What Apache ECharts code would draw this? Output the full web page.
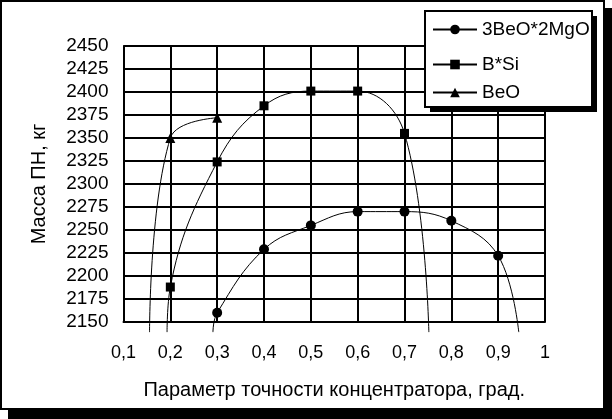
<!DOCTYPE html>
<html>
<head>
<meta charset="utf-8">
<script src="https://cdn.jsdelivr.net/npm/echarts@6/dist/echarts.min.js"></script>
<style>
html,body{margin:0;padding:0;background:#fff;}
#c{width:612px;height:419px;}
</style>
</head>
<body>
<div id="c"></div>
<script>
// ---- data ----
const seriesNames = ['3BeO*2MgO', 'B*Si', 'BeO'];
const xTicks = [0.1, 0.2, 0.3, 0.4, 0.5, 0.6, 0.7, 0.8, 0.9, 1];

const mgoX = [0.3, 0.4, 0.5, 0.6, 0.7, 0.8, 0.9];
const mgoY = [2160, 2229, 2255, 2270, 2270, 2260, 2222];
const mgoTailStart = [0.291, 2139];
const mgoTailEnd = [0.944, 2139];

const bsiX = [0.2, 0.3, 0.4, 0.5, 0.6, 0.7];
const bsiY = [2188, 2324, 2385, 2401, 2401, 2355];
const bsiTailStart = [0.193, 2139];
const bsiTailEnd = [0.752, 2139];

const beoX = [0.2, 0.3];
const beoY = [2350, 2372];
const beoTailStart = [0.1556, 2139];

const FONT = '"Liberation Sans", Arial, sans-serif';

function build(xs, ys, start, end) {
  const d = [];
  if (start) d.push({ value: start, symbol: 'none' });
  xs.forEach((x, i) => d.push([x, ys[i]]));
  if (end) d.push({ value: end, symbol: 'none' });
  return d;
}

const chart = echarts.init(document.getElementById('c'), null, { renderer: 'canvas' });

const axisCommon = {
  axisLine: { show: true, lineStyle: { color: '#000', width: 2 } },
  axisTick: { show: false },
  splitLine: { show: true, lineStyle: { color: '#000', width: 2 } },
  nameLocation: 'middle',
  nameTextStyle: { fontSize: 20, color: '#000', fontFamily: FONT }
};

function legendAt(name, top, lineW) {
  return {
    data: [{ name: name, lineStyle: lineW ? { width: lineW } : undefined }],
    left: 432, top: top, padding: 0,
    itemWidth: 44, itemHeight: 12, itemGap: 0,
    textStyle: { fontSize: 19, color: '#000', fontFamily: FONT, padding: [0, 0, 0, 0] },
    z: 8
  };
}

chart.setOption({
  animation: false,
  backgroundColor: 'transparent',
  graphic: [
    { type: 'rect', z: -10, shape: { x: 8, y: 8, width: 604, height: 411 }, style: { fill: '#000' } },
    { type: 'rect', z: -9, shape: { x: 1, y: 1, width: 603, height: 408 }, style: { fill: '#fff', stroke: '#000', lineWidth: 2 } },
    { type: 'rect', z: 6, shape: { x: 430, y: 16, width: 167, height: 96 }, style: { fill: '#000' } },
    { type: 'rect', z: 7, shape: { x: 425, y: 11, width: 167, height: 96 }, style: { fill: '#fff', stroke: '#000', lineWidth: 2 } }
  ],
  grid: { left: 123.5, right: 67, top: 46, bottom: 97 },
  xAxis: Object.assign({}, axisCommon, {
    type: 'value', min: 0.1, max: 1, interval: 0.1,
    name: 'Параметр точности концентратора, град.',
    nameGap: 58,
    axisLabel: {
      margin: 22, fontSize: 18, color: '#000', fontFamily: FONT,
      formatter: v => String(+(+v).toFixed(1)).replace('.', ',')
    }
  }),
  yAxis: Object.assign({}, axisCommon, {
    type: 'value', min: 2150, max: 2450, interval: 25,
    name: 'Масса ПН, кг',
    nameRotate: 90,
    nameGap: 74,
    axisLabel: { margin: 15, fontSize: 19, color: '#000', fontFamily: FONT, formatter: v => String(v) }
  }),
  legend: [
    legendAt(seriesNames[0], 20),
    legendAt(seriesNames[1], 55, 2),
    legendAt(seriesNames[2], 83)
  ],
  series: [
    {
      name: seriesNames[0], type: 'line', smooth: 0.4, clip: false,
      symbol: 'circle', symbolSize: 10,
      lineStyle: { color: '#000', width: 1 }, itemStyle: { color: '#000' },
      data: build(mgoX, mgoY, mgoTailStart, mgoTailEnd)
    },
    {
      name: seriesNames[1], type: 'line', smooth: 0.4, clip: false,
      symbol: 'rect', symbolSize: 9,
      lineStyle: { color: '#000', width: 1 }, itemStyle: { color: '#000' },
      data: build(bsiX, bsiY, bsiTailStart, bsiTailEnd)
    },
    {
      name: seriesNames[2], type: 'line', smooth: 0.4, clip: false,
      symbol: 'triangle', symbolSize: 10,
      lineStyle: { color: '#000', width: 1 }, itemStyle: { color: '#000' },
      data: build(beoX, beoY, beoTailStart, null)
    }
  ]
});
</script>
</body>
</html>
